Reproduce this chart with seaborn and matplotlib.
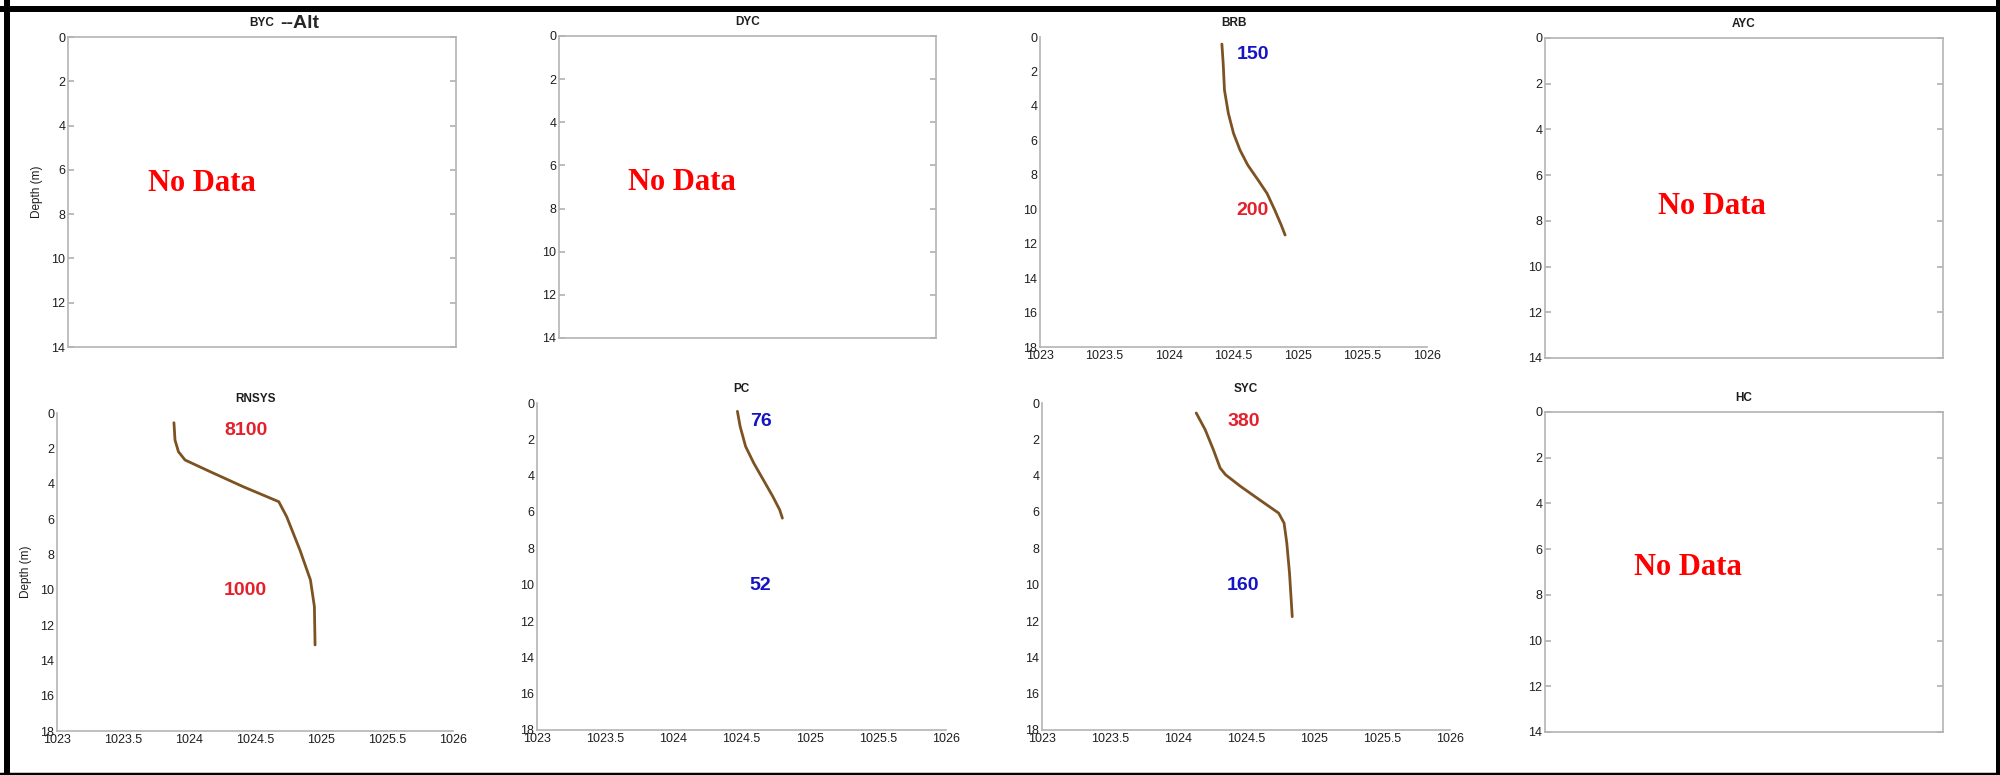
import numpy as np
import matplotlib.pyplot as plt
import seaborn as sns
from matplotlib.lines import Line2D
from matplotlib.ticker import FormatStrFormatter

# density profiles: density (kg/m3) against depth (m)
brb_depth = [0.41, 1.53, 3.08, 4.43, 5.59, 6.56, 7.43, 8.30, 9.08, 10.05, 10.92, 11.5]
brb_density = [1024.41, 1024.42, 1024.43, 1024.46, 1024.50, 1024.55, 1024.61, 1024.69, 1024.76, 1024.82, 1024.87, 1024.90]

rnsys_depth = [0.55, 1.53, 2.19, 2.66, 3.32, 4.17, 5.02, 5.87, 7.75, 9.45, 10.96, 13.13]
rnsys_density = [1023.886, 1023.894, 1023.92, 1023.97, 1024.16, 1024.41, 1024.68, 1024.74, 1024.84, 1024.92, 1024.95, 1024.955]

pc_depth = [0.46, 1.29, 2.39, 3.31, 4.23, 5.15, 5.88, 6.34]
pc_density = [1024.47, 1024.49, 1024.53, 1024.59, 1024.66, 1024.73, 1024.78, 1024.80]

syc_depth = [0.55, 1.47, 2.57, 3.58, 3.95, 4.59, 5.33, 6.06, 6.61, 7.71, 9.37, 11.76]
syc_density = [1024.134, 1024.20, 1024.26, 1024.31, 1024.35, 1024.46, 1024.60, 1024.74, 1024.78, 1024.80, 1024.82, 1024.84]

# numbers written on each profile (upper, lower) and their colours
brb_labels = ['150', '200']
rnsys_labels = ['8100', '1000']
pc_labels = ['76', '52']
syc_labels = ['380', '160']

density_ticks = [1023, 1023.5, 1024, 1024.5, 1025, 1025.5, 1026]
RED = '#e3202b'
BLUE = '#1414c4'

profiles = {
    'BRB': (brb_density, brb_depth, brb_labels, [BLUE, RED]),
    'RNSYS': (rnsys_density, rnsys_depth, rnsys_labels, [RED, RED]),
    'PC': (pc_density, pc_depth, pc_labels, [BLUE, BLUE]),
    'SYC': (syc_density, syc_depth, syc_labels, [RED, BLUE]),
}

# panel boxes in pixels (left, right, top, bottom) on a 2000x775 canvas
W, H = 2000, 775
boxes = {
    'BYC': (68, 456, 37, 347),
    'DYC': (559, 936, 36, 338),
    'BRB': (1040, 1427, 37, 347),
    'AYC': (1545, 1943, 38, 358),
    'RNSYS': (57, 453, 413, 731),
    'PC': (537, 946, 403, 730),
    'SYC': (1042, 1450, 403, 730),
    'HC': (1545, 1943, 412, 732),
}
# where the "No Data" text sits (x as axes fraction, y in depth)
nodata_pos = {'BYC': (0.345, 6.6), 'DYC': (0.326, 6.8), 'AYC': (0.42, 7.35), 'HC': (0.36, 6.8)}
# x position of the two numbers on each profile
label_x = {'BRB': 1024.65, 'RNSYS': 1024.43, 'PC': 1024.64, 'SYC': 1024.48}

sns.set_theme(style="white")
plt.rcParams['font.family'] = ['Liberation Sans', 'DejaVu Sans']

fig = plt.figure(figsize=(20, 7.75), dpi=100)
SPINE = '#b4b4b4'
TXT = '#1e1e1e'

for name, (l, r, t, b) in boxes.items():
    ax = fig.add_axes([l / W, 1 - b / H, (r - l) / W, (b - t) / H])
    ax.set_title(name, fontsize=8.5, fontweight='bold', color=TXT, pad=8)
    if name in profiles:
        dens, depth, labels, cols = profiles[name]
        sns.lineplot(x=dens, y=depth, sort=False, estimator=None, ax=ax,
                     color='#7d5222', lw=2)
        ax.set_xlim(1023, 1026)
        ax.set_ylim(18, 0)
        ax.set_xticks(density_ticks)
        ax.xaxis.set_major_formatter(FormatStrFormatter('%g'))
        ax.set_yticks(range(0, 19, 2))
        for txt, yy, c in zip(labels, [1.0, 10.05], cols):
            ax.text(label_x[name], yy, txt, color=c, fontsize=14, fontweight='bold',
                    ha='center', va='center')
        for s in ['top', 'right']:
            ax.spines[s].set_visible(False)
        ax.tick_params(axis='both', direction='in', length=4, color=SPINE,
                       labelsize=9, labelcolor=TXT, pad=2)
    else:
        ax.set_xlim(0, 1)
        ax.set_ylim(14, 0)
        ax.set_yticks(range(0, 15, 2))
        ax.set_xticks([])
        xf, yy = nodata_pos[name]
        ax.text(xf, yy, 'No Data', color='#ff0000', fontsize=22, fontweight='bold',
                family='Liberation Serif', ha='center', va='center')
        ax.tick_params(axis='y', direction='in', length=4, color=SPINE, right=True,
                       left=True, labelsize=9, labelcolor=TXT, pad=2)
    for s in ax.spines.values():
        s.set_color(SPINE)
        s.set_linewidth(1.2)
    if name in ('BYC', 'RNSYS'):
        ax.set_ylabel('Depth (m)', fontsize=8.5, color=TXT, labelpad=6)

# "--Alt" added after the BYC title
fig.text(280 / W, 1 - 23 / H, '--Alt', fontsize=14, fontweight='bold', ha='left', va='center')

# black frame round the whole picture
frame = [((0, 1), (1 - 9 / H, 1 - 9 / H), 4.3),
         ((7 / W, 7 / W), (0, 1), 4.3),
         ((1997.5 / W, 1997.5 / W), (0, 1), 3.6),
         ((0, 1), (1 - 773.5 / H, 1 - 773.5 / H), 2.5)]
for xs, ys, lw in frame:
    fig.add_artist(Line2D(xs, ys, transform=fig.transFigure, color='black', lw=lw))

fig.savefig('out.png', dpi=100)
